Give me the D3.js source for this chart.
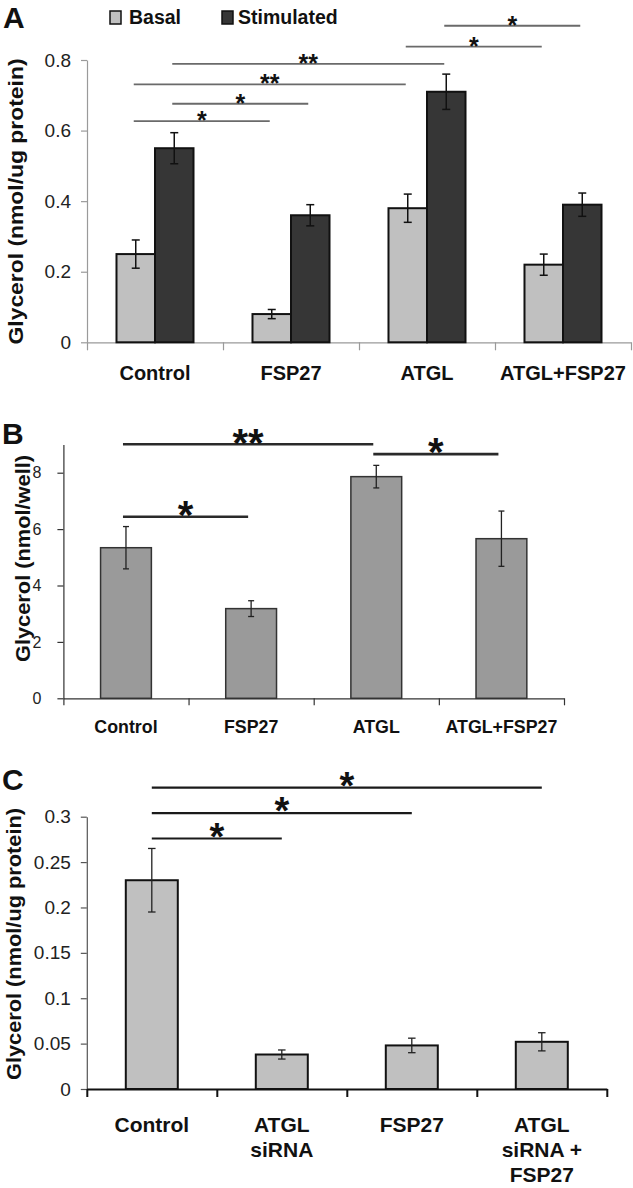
<!DOCTYPE html>
<html><head><meta charset="utf-8">
<script src="https://cdn.jsdelivr.net/npm/d3@7"></script>
<style>
html,body{margin:0;padding:0;background:#fff;}
svg{display:block;font-family:"Liberation Sans",Arial,sans-serif;}
</style></head>
<body><svg id="c" width="633" height="1188"></svg>
<script>
// ---------- Panel A data ----------
const catsA = ["Control","FSP27","ATGL","ATGL+FSP27"];
const seriesA = ["Basal","Stimulated"];
const basalA = [0.25,0.08,0.38,0.22];
const basalErrA = [0.04,0.013,0.04,0.03];
const stimA = [0.55,0.36,0.71,0.39];
const stimErrA = [0.044,0.03,0.05,0.033];
const ticksA = [0,0.2,0.4,0.6,0.8];
// significance: [fromCat, fromSeries, toCat, toSeries, yValue, label]
const sigA = [
  [2,1,3,1,0.897,"*"],
  [2,0,3,0,0.838,"*"],
  [0,1,2,1,0.789,"**"],
  [0,0,2,0,0.731,"**"],
  [0,1,1,1,0.676,"*"],
  [0,0,1,0,0.627,"*"]
];
// ---------- Panel B data ----------
const catsB = ["Control","FSP27","ATGL","ATGL+FSP27"];
const valsB = [5.34,3.18,7.86,5.66];
const errB = [0.75,0.28,0.4,0.98];
const ticksB = [0,2,4,6,8];
const sigB = [
  [0,2,9.01,"**"],
  [2,3,8.66,"*"],
  [0,1,6.44,"*"]
];
// ---------- Panel C data ----------
const catsC = ["Control","ATGL siRNA","FSP27","ATGL siRNA + FSP27"];
const catLinesC = [["Control"],["ATGL","siRNA"],["FSP27"],["ATGL","siRNA +","FSP27"]];
const valsC = [0.23,0.038,0.048,0.052];
const errC = [0.035,0.005,0.008,0.01];
const ticksC = [0,0.05,0.1,0.15,0.2,0.25,0.3];
const sigC = [
  [0,3,0.332,"*"],
  [0,2,0.304,"*"],
  [0,1,0.276,"*"]
];

const svg = d3.select("#c");

function errBar(g, cx, y, v, e, cap, color, w){
  g.append("line").attr("x1",cx).attr("x2",cx).attr("y1",y(v+e)).attr("y2",y(v-e))
    .attr("stroke",color).attr("stroke-width",w);
  [v+e, v-e].forEach(t=>{
    g.append("line").attr("x1",cx-cap/2).attr("x2",cx+cap/2).attr("y1",y(t)).attr("y2",y(t))
      .attr("stroke",color).attr("stroke-width",w);
  });
}
function star(g, x, ly, label, fs, off){
  g.append("text").attr("x",x).attr("y",ly - off + 0.56*fs)
    .attr("text-anchor","middle").attr("font-weight","bold").attr("font-size",fs)
    .attr("fill","#111").text(label);
}
function styleAxis(g, color, width, fs, tcolor){
  g.select(".domain").attr("stroke",color).attr("stroke-width",width);
  g.selectAll(".tick line").attr("stroke",color).attr("stroke-width",width);
  g.selectAll(".tick text").attr("font-size",fs).attr("fill",tcolor).attr("font-family","Liberation Sans, Arial, sans-serif");
}

// ================= Panel A =================
(function(){
  const g = svg.append("g");
  const x0 = 87, x1 = 631, yb = 342.3, yt = 60;
  const x = d3.scaleBand().domain(catsA).range([x0,x1]).padding(0);
  const xs = d3.scaleBand().domain(seriesA).range([0,x.bandwidth()]).paddingInner(0).paddingOuter(0.766);
  const y = d3.scaleLinear().domain([0,0.8]).range([yb,yt]);
  const colors = {Basal:"#c0c0c0", Stimulated:"#363636"};
  const vals = {Basal:basalA, Stimulated:stimA};
  const errs = {Basal:basalErrA, Stimulated:stimErrA};

  const ya = g.append("g").attr("transform",`translate(${x0},0)`)
    .call(d3.axisLeft(y).tickValues(ticksA).tickSize(6).tickSizeOuter(0).tickPadding(10).tickFormat(d=>String(d)));
  styleAxis(ya,"#9a9a9a",1.2,19,"#222");
  const xl = d3.scaleLinear().domain([0,catsA.length]).range([x0,x1]);
  const xa = g.append("g").attr("transform",`translate(0,${yb})`)
    .call(d3.axisBottom(xl).tickValues(d3.range(catsA.length+1)).tickSize(8).tickSizeOuter(0).tickFormat(""));
  styleAxis(xa,"#9a9a9a",1.2,19,"#222");

  seriesA.forEach(s=>{
    catsA.forEach((c,i)=>{
      const bx = x(c)+xs(s);
      g.append("rect").attr("x",bx).attr("y",y(vals[s][i])).attr("width",xs.bandwidth())
        .attr("height",yb-y(vals[s][i])).attr("fill",colors[s]).attr("stroke","#111").attr("stroke-width",2);
    });
  });
  seriesA.forEach(s=>{
    catsA.forEach((c,i)=>{
      errBar(g, x(c)+xs(s)+xs.bandwidth()/2, y, vals[s][i], errs[s][i], 8, "#111", 1.5);
    });
  });
  catsA.forEach(c=>{
    g.append("text").attr("x",x(c)+x.bandwidth()/2).attr("y",380).attr("text-anchor","middle")
      .attr("font-weight","bold").attr("font-size",20).attr("fill","#111").text(c);
  });
  sigA.forEach(([fc,fs,tc,ts,v,lab])=>{
    const xa1 = x(catsA[fc])+xs(seriesA[fs])+xs.bandwidth()/2 - 2;
    const xa2 = x(catsA[tc])+xs(seriesA[ts])+xs.bandwidth()/2 - 2;
    g.append("line").attr("x1",xa1).attr("x2",xa2).attr("y1",y(v)).attr("y2",y(v))
      .attr("stroke","#6a6a6a").attr("stroke-width",1.8);
    star(g,(xa1+xa2)/2,y(v),lab,25,6);
  });
  const legX = [110,222], legT = [129,238];
  seriesA.forEach((s,i)=>{
    g.append("rect").attr("x",legX[i]).attr("y",11).attr("width",11).attr("height",13)
      .attr("fill",colors[s]).attr("stroke","#111").attr("stroke-width",1.5);
    g.append("text").attr("x",legT[i]).attr("y",23.5).attr("font-weight","bold").attr("font-size",19.5)
      .attr("fill","#111").text(s);
  });
  g.append("text").attr("transform","translate(23,201.5) rotate(-90)").attr("text-anchor","middle")
    .attr("font-weight","bold").attr("font-size",21).attr("fill","#111")
    .attr("textLength",286).attr("lengthAdjust","spacingAndGlyphs").text("Glycerol (nmol/ug protein)");
  g.append("text").attr("x",3).attr("y",28).attr("font-weight","bold").attr("font-size",30).attr("fill","#111").text("A");
})();

// ================= Panel B =================
(function(){
  const g = svg.append("g");
  const x0 = 63.4, x1 = 564, yb = 698.3, yt = 444.5;
  const x = d3.scaleBand().domain(catsB).range([x0,x1]).padding(0);
  const bw = x.bandwidth()*0.406;
  const y = d3.scaleLinear().domain([0,9]).range([yb,yt]);
  const ya = g.append("g").attr("transform",`translate(${x0},0)`)
    .call(d3.axisLeft(y).tickValues(ticksB).tickSize(6).tickSizeOuter(0).tickPadding(16).tickFormat(d=>String(d)));
  styleAxis(ya,"#333",1.2,16,"#222");
  const xl = d3.scaleLinear().domain([0,catsB.length]).range([x0,x1]);
  const xa = g.append("g").attr("transform",`translate(0,${yb})`)
    .call(d3.axisBottom(xl).tickValues(d3.range(catsB.length+1)).tickSize(7).tickSizeOuter(0).tickFormat(""));
  styleAxis(xa,"#333",1.2,16,"#222");
  catsB.forEach((c,i)=>{
    const cx = x(c)+x.bandwidth()/2;
    g.append("rect").attr("x",cx-bw/2).attr("y",y(valsB[i])).attr("width",bw).attr("height",yb-y(valsB[i]))
      .attr("fill","#9a9a9a").attr("stroke","#333").attr("stroke-width",1.5);
  });
  catsB.forEach((c,i)=>{
    errBar(g, x(c)+x.bandwidth()/2, y, valsB[i], errB[i], 6, "#222", 1.3);
    g.append("text").attr("x",x(c)+x.bandwidth()/2).attr("y",733.3).attr("text-anchor","middle")
      .attr("font-weight","bold").attr("font-size",17.8).attr("fill","#111").text(c);
  });
  sigB.forEach(([f,t,v,lab])=>{
    const xa1 = x(catsB[f])+x.bandwidth()/2-3, xa2 = x(catsB[t])+x.bandwidth()/2-3;
    g.append("line").attr("x1",xa1).attr("x2",xa2).attr("y1",y(v)).attr("y2",y(v))
      .attr("stroke","#2a2a2a").attr("stroke-width",2.6);
    star(g,(xa1+xa2)/2,y(v),lab,40,10);
  });
  g.append("text").attr("transform","translate(30,558.5) rotate(-90)").attr("text-anchor","middle")
    .attr("font-weight","bold").attr("font-size",21).attr("fill","#111")
    .attr("textLength",207).attr("lengthAdjust","spacingAndGlyphs").text("Glycerol (nmol/well)");
  g.append("text").attr("x",2).attr("y",444).attr("font-weight","bold").attr("font-size",30).attr("fill","#111").text("B");
})();

// ================= Panel C =================
(function(){
  const g = svg.append("g");
  const x0 = 86.8, x1 = 606.8, yb = 1089, yt = 816.7;
  const x = d3.scaleBand().domain(catsC).range([x0,x1]).padding(0);
  const bw = x.bandwidth()*0.4;
  const y = d3.scaleLinear().domain([0,0.3]).range([yb,yt]);
  const ya = g.append("g").attr("transform",`translate(${x0},0)`)
    .call(d3.axisLeft(y).tickValues(ticksC).tickSize(6).tickSizeOuter(0).tickPadding(10).tickFormat(d=>String(d)));
  styleAxis(ya,"#555",1.2,19,"#222");
  const xl = d3.scaleLinear().domain([0,catsC.length]).range([x0,x1]);
  const xa = g.append("g").attr("transform",`translate(0,${yb})`)
    .call(d3.axisBottom(xl).tickValues(d3.range(catsC.length+1)).tickSize(8).tickSizeOuter(0).tickFormat(""));
  styleAxis(xa,"#111",2,19,"#222");
  catsC.forEach((c,i)=>{
    const cx = x(c)+x.bandwidth()/2;
    g.append("rect").attr("x",cx-bw/2).attr("y",y(valsC[i])).attr("width",bw).attr("height",yb-y(valsC[i]))
      .attr("fill","#c0c0c0").attr("stroke","#111").attr("stroke-width",2);
  });
  catsC.forEach((c,i)=>{
    const cx = x(c)+x.bandwidth()/2;
    errBar(g, cx, y, valsC[i], errC[i], 7.5, "#222", 1.3);
    catLinesC[i].forEach((ln,k)=>{
      g.append("text").attr("x",cx).attr("y",1131.7+k*25).attr("text-anchor","middle")
        .attr("font-weight","bold").attr("font-size",21).attr("fill","#111").text(ln);
    });
  });
  sigC.forEach(([f,t,v,lab])=>{
    const xa1 = x(catsC[f])+x.bandwidth()/2, xa2 = x(catsC[t])+x.bandwidth()/2;
    g.append("line").attr("x1",xa1).attr("x2",xa2).attr("y1",y(v)).attr("y2",y(v))
      .attr("stroke","#1a1a1a").attr("stroke-width",2.2);
    star(g,(xa1+xa2)/2,y(v),lab,38,10);
  });
  g.append("text").attr("transform","translate(21,944) rotate(-90)").attr("text-anchor","middle")
    .attr("font-weight","bold").attr("font-size",21).attr("fill","#111")
    .attr("textLength",272).attr("lengthAdjust","spacingAndGlyphs").text("Glycerol (nmol/ug protein)");
  g.append("text").attr("x",2).attr("y",790).attr("font-weight","bold").attr("font-size",30).attr("fill","#111").text("C");
})();
</script></body></html>
